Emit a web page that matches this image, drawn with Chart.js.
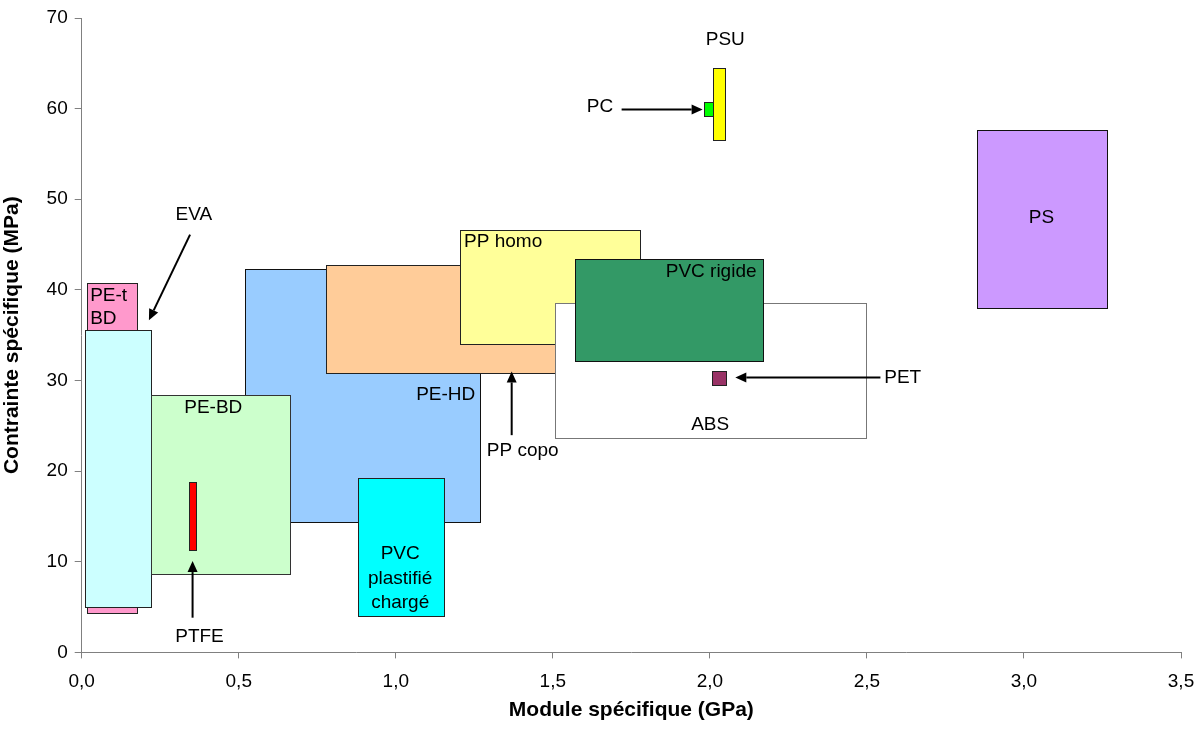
<!DOCTYPE html>
<html>
<head>
<meta charset="utf-8">
<script src="https://cdn.jsdelivr.net/npm/chart.js@4/dist/chart.umd.min.js"></script>
<style>
  html, body { margin: 0; padding: 0; background: #ffffff; }
  #wrap { width: 1201px; height: 731px; position: relative; }
</style>
</head>
<body>
<div id="wrap"><canvas id="c" width="1201" height="731"></canvas></div>
<script>
// ---- Data ----
// Materials, drawn in this order (later ones on top)
const materials = ["PE-HD", "PE-t BD", "EVA", "PE-BD", "PTFE", "PVC plastifié chargé",
                   "PP copo", "PP homo", "ABS", "PVC rigide", "PET", "PS", "PSU", "PC"];
// Specific modulus range (GPa)
const modulusMin = [0.520, 0.016, 0.012, 0.222, 0.343, 0.881, 0.777, 1.205, 1.507, 1.571, 2.006, 2.850, 2.011, 1.980];
const modulusMax = [1.268, 0.176, 0.222, 0.663, 0.364, 1.155, 1.530, 1.778, 2.497, 2.168, 2.051, 3.264, 2.049, 2.011];
// Specific strength range (MPa)
const strengthMin = [14.4, 4.3, 5.0, 8.6, 11.3, 4.05, 30.8, 34.0, 23.65, 32.1, 29.55, 38.05, 56.5, 59.15];
const strengthMax = [42.35, 40.75, 35.6, 28.4, 18.75, 19.2, 42.7, 46.65, 38.5, 43.45, 31.1, 57.67, 64.47, 60.7];

// Axis ticks
const xTicks = [0.0, 0.5, 1.0, 1.5, 2.0, 2.5, 3.0, 3.5];
const yTicks = [0, 10, 20, 30, 40, 50, 60, 70];

// ---- Styles ----
const fillColors = ["#99CCFF", "#FF99CC", "#CCFFFF", "#CCFFCC", "#FF0000", "#00FFFF",
                    "#FFCC99", "#FFFF99", "#FFFFFF", "#339966", "#993366", "#CC99FF", "#FFFF00", "#00FF00"];
const borderColors = ["#111", "#222", "#222", "#333", "#222", "#222",
                      "#222", "#222", "#777", "#111", "#222", "#111", "#222", "#222"];

// Annotation labels (data coordinates) and arrows
const labels = [
  { t: "PE-t", x: 0.027, y: 39.3, a: "left" },
  { t: "BD", x: 0.027, y: 36.8, a: "left" },
  { t: "EVA", x: 0.357, y: 48.3, a: "center" },
  { t: "PE-BD", x: 0.419, y: 27.0, a: "center" },
  { t: "PTFE", x: 0.375, y: 1.7, a: "center" },
  { t: "PE-HD", x: 1.159, y: 28.4, a: "center" },
  { t: "PP copo", x: 1.404, y: 22.3, a: "center" },
  { t: "PP homo", x: 1.2175, y: 45.3, a: "left" },
  { t: "PVC rigide", x: 2.004, y: 42.0, a: "center" },
  { t: "ABS", x: 2.001, y: 25.1, a: "center" },
  { t: "PET", x: 2.614, y: 30.3, a: "center" },
  { t: "PS", x: 3.056, y: 47.95, a: "center" },
  { t: "PSU", x: 2.049, y: 67.6, a: "center" },
  { t: "PC", x: 1.650, y: 60.17, a: "center" },
  { t: "PVC", x: 1.014, y: 10.88, a: "center" },
  { t: "plastifié", x: 1.014, y: 8.15, a: "center" },
  { t: "chargé", x: 1.014, y: 5.45, a: "center" }
];
const arrows = [
  { x0: 0.345, y0: 46.1, x1: 0.214, y1: 36.65 },   // EVA
  { x0: 0.353, y0: 3.83, x1: 0.353, y1: 10.08 },   // PTFE
  { x0: 1.369, y0: 23.97, x1: 1.369, y1: 31.0 },   // PP copo
  { x0: 2.543, y0: 30.33, x1: 2.081, y1: 30.33 },  // PET
  { x0: 1.719, y0: 59.9, x1: 1.977, y1: 59.9 }     // PC
];

const FONT = "'Liberation Sans', Arial, sans-serif";

const rectPlugin = {
  id: 'rects',
  beforeDatasetsDraw(chart) {
    const ctx = chart.ctx, xs = chart.scales.x, ys = chart.scales.y;
    ctx.save();
    for (let i = 0; i < materials.length; i++) {
      const x0 = Math.round(xs.getPixelForValue(modulusMin[i])) + 0.5;
      const x1 = Math.round(xs.getPixelForValue(modulusMax[i])) + 0.5;
      const y0 = Math.round(ys.getPixelForValue(strengthMax[i])) + 0.5;
      const y1 = Math.round(ys.getPixelForValue(strengthMin[i])) + 0.5;
      ctx.fillStyle = fillColors[i];
      ctx.fillRect(x0, y0, x1 - x0, y1 - y0);
      ctx.strokeStyle = borderColors[i];
      ctx.lineWidth = 1;
      ctx.strokeRect(x0, y0, x1 - x0, y1 - y0);
    }
    ctx.restore();
  },
  afterDatasetsDraw(chart) {
    const ctx = chart.ctx, xs = chart.scales.x, ys = chart.scales.y;
    ctx.save();
    ctx.fillStyle = "#000";
    ctx.font = "19px " + FONT;
    ctx.textBaseline = "middle";
    for (const l of labels) {
      ctx.textAlign = l.a;
      ctx.fillText(l.t, xs.getPixelForValue(l.x), ys.getPixelForValue(l.y));
    }
    ctx.strokeStyle = "#000";
    ctx.lineWidth = 2;
    for (const a of arrows) {
      const px0 = xs.getPixelForValue(a.x0), py0 = ys.getPixelForValue(a.y0);
      const px1 = xs.getPixelForValue(a.x1), py1 = ys.getPixelForValue(a.y1);
      const ang = Math.atan2(py1 - py0, px1 - px0);
      const hl = 11, hw = 5;
      const bx = px1 - hl * Math.cos(ang), by = py1 - hl * Math.sin(ang);
      ctx.beginPath();
      ctx.moveTo(px0, py0);
      ctx.lineTo(bx, by);
      ctx.stroke();
      ctx.beginPath();
      ctx.moveTo(px1, py1);
      ctx.lineTo(bx + hw * Math.sin(ang), by - hw * Math.cos(ang));
      ctx.lineTo(bx - hw * Math.sin(ang), by + hw * Math.cos(ang));
      ctx.closePath();
      ctx.fill();
    }
    ctx.restore();
  }
};

new Chart(document.getElementById('c'), {
  type: 'scatter',
  data: { datasets: [{ data: [], pointRadius: 0 }] },
  options: {
    responsive: false,
    animation: false,
    events: [],
    layout: { padding: { top: 18, right: 20, left: 0, bottom: 0 } },
    plugins: { legend: { display: false }, tooltip: { enabled: false } },
    scales: {
      x: {
        type: 'linear', min: 0, max: 3.5,
        afterBuildTicks: s => { s.ticks = xTicks.map(v => ({ value: v })); },
        afterFit: s => { s.height = 78.6; s.paddingRight = 0; s.paddingLeft = 0; },
        ticks: {
          color: '#000', padding: 12,
          font: { family: FONT, size: 19 },
          callback: v => Number(v).toFixed(1).replace('.', ',')
        },
        grid: { drawOnChartArea: false, drawTicks: true, tickLength: 6, color: '#808080' },
        border: { display: true, color: '#808080', width: 1 },
        title: {
          display: true, text: 'Module spécifique (GPa)', color: '#000',
          font: { family: FONT, size: 21, weight: 'bold' },
          padding: { top: 8, bottom: 8 }
        }
      },
      y: {
        type: 'linear', min: 0, max: 70,
        afterBuildTicks: s => { s.ticks = yTicks.map(v => ({ value: v })); },
        afterFit: s => { s.width = 81.7; s.paddingTop = 0; s.paddingBottom = 0; },
        ticks: {
          color: '#000', padding: 7,
          font: { family: FONT, size: 19 }
        },
        grid: { drawOnChartArea: false, drawTicks: true, tickLength: 7, color: '#808080' },
        border: { display: true, color: '#808080', width: 1 },
        title: {
          display: true, text: 'Contrainte spécifique (MPa)', color: '#000',
          font: { family: FONT, size: 21, weight: 'bold' },
          padding: { top: 0, bottom: 0 }
        }
      }
    }
  },
  plugins: [rectPlugin]
});
</script>
</body>
</html>
